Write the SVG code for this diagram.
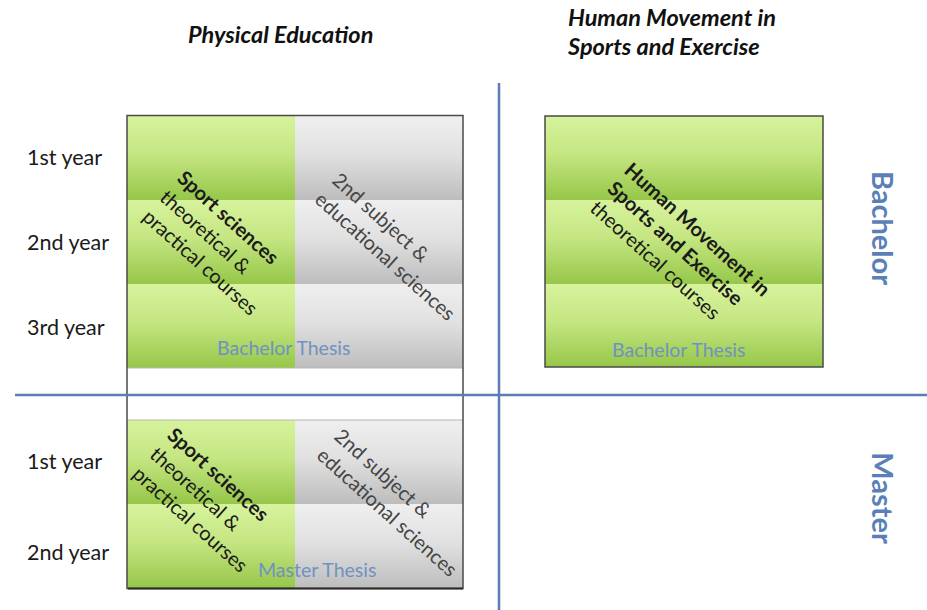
<svg xmlns="http://www.w3.org/2000/svg" width="927" height="610" viewBox="0 0 927 610">
<defs>
<linearGradient id="gG" x1="0" y1="0" x2="0" y2="1"><stop offset="0" stop-color="#d7f39d"/><stop offset="0.45" stop-color="#c5e682"/><stop offset="1" stop-color="#96c749"/></linearGradient>
<linearGradient id="gR" x1="0" y1="0" x2="0" y2="1"><stop offset="0" stop-color="#efefef"/><stop offset="0.45" stop-color="#e1e1e1"/><stop offset="1" stop-color="#bdbdbd"/></linearGradient>
</defs>
<style>
text{font-family:Lato,"Liberation Sans",sans-serif}
.lbl{font-size:21.5px;fill:#1a1a1a}
.rot{font-size:20px;fill:#1a1a1a}
.rg{font-size:20px;fill:#454545}
.b{font-weight:bold}
.th{font-size:19.5px;fill:#6f92c2}
.title{font-weight:bold;font-style:italic;font-size:23.5px;fill:#111}
.side{font-weight:bold;font-size:29px;fill:#5b7fb8}
.div{stroke:#5b7db3;stroke-width:2.5;fill:none}
.frame{fill:none;stroke:#4a4a4a;stroke-width:1.5}
.cg{fill:url(#gG)}
.cr{fill:url(#gR)}
</style>
<rect width="927" height="610" fill="#ffffff"/>

<g id="titles">
<text class="title" x="188" y="43">Physical Education</text>
<text class="title" x="568" y="26">Human Movement in</text>
<text class="title" x="568" y="55">Sports and Exercise</text>
</g>

<g id="year-labels">
<text class="lbl" x="27" y="165">1st year</text>
<text class="lbl" x="27" y="250">2nd year</text>
<text class="lbl" x="27" y="335">3rd year</text>
<text class="lbl" x="27" y="469">1st year</text>
<text class="lbl" x="27" y="560">2nd year</text>
</g>

<g id="pe-bachelor">
<rect class="cg" x="127" y="116" width="168" height="84"/>
<rect class="cg" x="127" y="200" width="168" height="84"/>
<rect class="cg" x="127" y="284" width="168" height="84"/>
<rect class="cr" x="295" y="116" width="168" height="84"/>
<rect class="cr" x="295" y="200" width="168" height="84"/>
<rect class="cr" x="295" y="284" width="168" height="84"/>
<line x1="127" y1="368" x2="463" y2="368" stroke="#b5b5b5" stroke-width="1"/>
<g transform="translate(176,180) rotate(42)">
<text class="rot b" x="0" y="0">Sport sciences</text>
<text class="rot" x="0" y="26">theoretical &amp;</text>
<text class="rot" x="0" y="52">practical courses</text>
</g>
<g transform="translate(331,182) rotate(42)">
<text class="rg" x="0" y="0">2nd subject &amp;</text>
<text class="rg" x="0" y="26">educational sciences</text>
</g>
<text class="th" x="217" y="355">Bachelor Thesis</text>
</g>

<g id="pe-master">
<rect class="cg" x="127" y="420" width="168" height="84"/>
<rect class="cg" x="127" y="504" width="168" height="84"/>
<rect class="cr" x="295" y="420" width="168" height="84"/>
<rect class="cr" x="295" y="504" width="168" height="84"/>
<line x1="127" y1="420" x2="463" y2="420" stroke="#b5b5b5" stroke-width="1"/>
<g transform="translate(166,437) rotate(42)">
<text class="rot b" x="0" y="0">Sport sciences</text>
<text class="rot" x="0" y="26">theoretical &amp;</text>
<text class="rot" x="0" y="52">practical courses</text>
</g>
<g transform="translate(333,438) rotate(42)">
<text class="rg" x="0" y="0">2nd subject &amp;</text>
<text class="rg" x="0" y="26">educational sciences</text>
</g>
<text class="th" x="258" y="577">Master Thesis</text>
</g>

<rect id="pe-frame" class="frame" x="127" y="115.5" width="336" height="473"/>
<line x1="128" y1="588.5" x2="463" y2="588.5" stroke="#2a2a2a" stroke-width="2"/>

<g id="hm-bachelor">
<rect class="cg" x="545" y="116" width="278" height="84"/>
<rect class="cg" x="545" y="200" width="278" height="84"/>
<rect class="cg" x="545" y="284" width="278" height="83"/>
<rect class="frame" x="545" y="116" width="278" height="251"/>
<g transform="translate(623,172) rotate(42)">
<text class="rot b" x="0" y="0">Human Movement in</text>
<text class="rot b" x="0" y="25">Sports and Exercise</text>
<text class="rot" x="0" y="51">theoretical courses</text>
</g>
<text class="th" x="612" y="357">Bachelor Thesis</text>
</g>

<g id="side-labels">
<text class="side" text-anchor="middle" transform="translate(872,228) rotate(90)">Bachelor</text>
<text class="side" text-anchor="middle" transform="translate(872,498) rotate(90)">Master</text>
</g>

<g id="dividers">
<line class="div" x1="15" y1="395" x2="927" y2="395"/>
<line class="div" x1="499" y1="83" x2="499" y2="610"/>
</g>
</svg>
